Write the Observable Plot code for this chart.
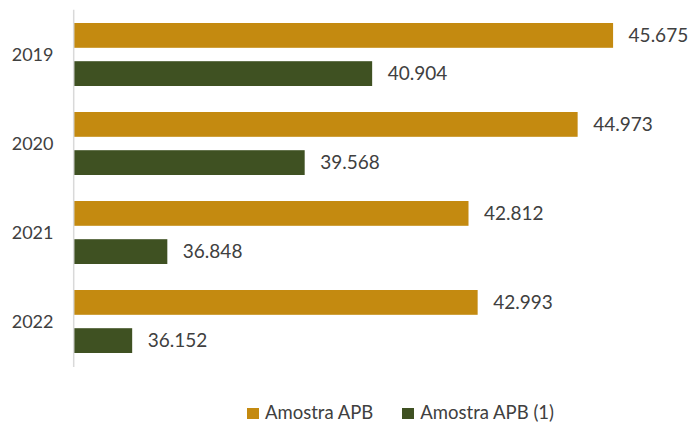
<!DOCTYPE html>
<html>
<head>
<meta charset="utf-8">
<script src="https://cdn.jsdelivr.net/npm/d3@7"></script>
<script src="https://cdn.jsdelivr.net/npm/@observablehq/plot@0.6"></script>
<style>
  body { margin: 0; background: #fff; }
  #wrap { position: relative; width: 691px; height: 424px; font-family: Lato, "Open Sans", sans-serif; }
  #legend { position: absolute; left: 247px; top: 402px; height: 20px; line-height: 20px; display: flex; align-items: center; font-size: 18.5px; color: #404040; }
  #legend .item { display: flex; align-items: center; }
  #legend .sw { width: 12px; height: 11px; margin-right: 6px; margin-top: 2px; }
</style>
</head>
<body>
<div id="wrap"><div id="chart"></div><div id="legend"></div></div>
<script>
const years = ["2019", "2020", "2021", "2022"];
const amostraAPB = [45675, 44973, 42812, 42993];
const amostraAPB1 = [40904, 39568, 36848, 36152];
const seriesNames = ["Amostra APB", "Amostra APB (1)"];
const seriesColors = ["#C48A10", "#3F5122"];
const axisStart = 35000;
const axisEnd = 47000;

const rows = years.flatMap((y, i) => [
  {year: y, series: seriesNames[0], value: amostraAPB[i]},
  {year: y, series: seriesNames[1], value: amostraAPB1[i]}
]);
const first = rows.filter(d => d.series === seriesNames[0]);
const second = rows.filter(d => d.series === seriesNames[1]);

const pt = d3.formatLocale({decimal: ",", thousands: ".", grouping: [3], currency: ["", " €"]});
const fmt = pt.format(",d");

const barH = 25.5, barGap = 12.7;
const inset = barH + barGap;
const off = (barH + barGap) / 2;

const chart = Plot.plot({
  width: 691,
  height: 390,
  marginTop: 9.7,
  marginBottom: 23.1,
  marginLeft: 74,
  marginRight: 11,
  style: {fontFamily: "Lato, 'Open Sans', sans-serif", fontSize: "18px", color: "#404040", background: "transparent"},
  x: {domain: [axisStart, axisEnd], axis: null},
  y: {domain: years, paddingInner: 0.287, paddingOuter: 0.1435, label: null, tickSize: 0, tickPadding: 21},
  color: {domain: seriesNames, range: seriesColors},
  marks: [
    Plot.barX(first, {x1: d => axisStart, x2: "value", y: "year", fill: "series", insetBottom: inset}),
    Plot.barX(second, {x1: d => axisStart, x2: "value", y: "year", fill: "series", insetTop: inset}),
    Plot.ruleX([axisStart], {stroke: "#d9d9d9", strokeWidth: 1.5, dx: -0.8}),
    Plot.text(first, {x: "value", y: "year", dy: -off, dx: 15, text: d => fmt(d.value), textAnchor: "start", fill: "#404040", fontSize: 19}),
    Plot.text(second, {x: "value", y: "year", dy: off, dx: 15, text: d => fmt(d.value), textAnchor: "start", fill: "#404040", fontSize: 19})
  ]
});
document.getElementById("chart").appendChild(chart);

const color = chart.scale("color");
const legend = d3.select("#legend");
color.domain.forEach((name, i) => {
  const item = legend.append("div").attr("class", "item").style("margin-right", i === 0 ? "29px" : "0px");
  item.append("div").attr("class", "sw").style("background", color.range[i]);
  item.append("span").text(name);
});
</script>
</body>
</html>
